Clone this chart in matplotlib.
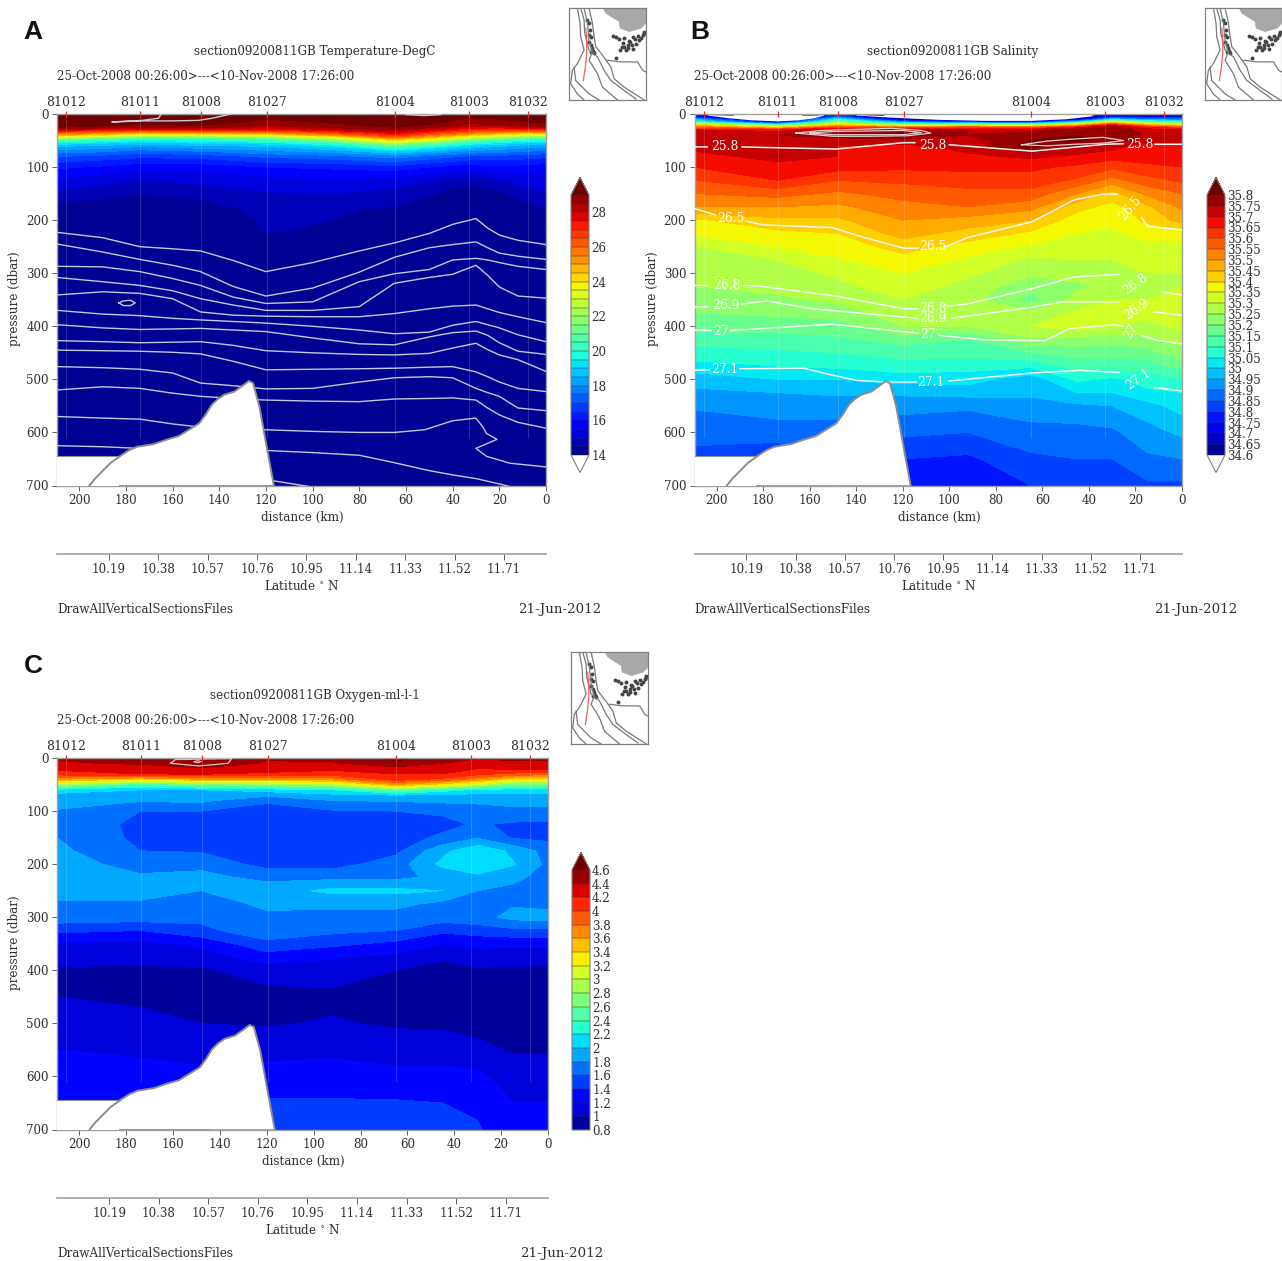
import numpy as np
import matplotlib
matplotlib.use("Agg")
import matplotlib.pyplot as plt
from matplotlib.colors import ListedColormap, BoundaryNorm
from matplotlib.colorbar import ColorbarBase
from matplotlib.patches import Polygon

# ---------- shared data ----------
station_ids = ["81012", "81011", "81008", "81027", "81004", "81003", "81032"]
station_dist = [205.6, 173.8, 147.7, 119.4, 64.7, 33.0, 7.7]
distance_ticks = [200, 180, 160, 140, 120, 100, 80, 60, 40, 20, 0]
pressure_ticks = [0, 100, 200, 300, 400, 500, 600, 700]
latitude_ticks = [10.19, 10.38, 10.57, 10.76, 10.95, 11.14, 11.33, 11.52, 11.71]
terrain_dist = [195.6, 193, 190.3, 186.7, 182.3, 178.8, 175.2, 168.1, 162.8, 157.4, 153, 148.6, 145.9, 143.2, 140.6, 137.9, 133.5, 130, 127.3, 125.5, 122.8, 120.2, 116.6]
terrain_pres = [700, 686, 674, 658, 644, 634, 627, 622, 614, 607, 595, 583, 567, 548, 537, 529, 523, 512, 503, 507, 551, 614, 700]

# ---------- panel A: temperature ----------
temp_dist = [209.5, 190, 174, 148, 119, 92, 65, 45, 33, 20, 8, 0]
temp_pres = [0, 10, 20, 25, 30, 35, 40, 45, 50, 55, 60, 70, 80, 100, 120, 140, 160, 180, 200, 220, 240, 700]
temp_values = [
    [29.2, 29.3, 29.4, 29.4, 29.3, 29.3, 29.5, 29.4, 29.2, 29.2, 29.3, 29.3],
    [29.2, 29.2, 29.3, 29.3, 29.0, 29.2, 29.3, 29.2, 28.9, 29.0, 29.2, 29.2],
    [29.1, 29.1, 29.0, 29.1, 28.6, 28.9, 29.2, 28.9, 28.4, 28.5, 28.8, 28.9],
    [29.0, 28.9, 28.5, 28.7, 28.2, 28.6, 29.0, 28.4, 27.8, 27.7, 28.2, 28.4],
    [27.8, 27.4, 27.2, 27.4, 27.2, 27.9, 28.5, 27.6, 27.0, 26.8, 26.9, 27.0],
    [26.3, 25.6, 25.0, 25.2, 25.5, 26.5, 27.8, 26.6, 25.8, 25.2, 24.8, 24.9],
    [24.6, 24.0, 22.8, 23.0, 23.4, 24.9, 26.9, 25.4, 24.4, 23.6, 22.8, 22.9],
    [22.3, 21.4, 20.6, 20.9, 21.4, 23.0, 25.5, 23.9, 22.6, 21.8, 21.0, 21.0],
    [20.4, 20.0, 19.5, 19.7, 20.1, 21.3, 24.0, 22.3, 21.0, 20.2, 19.7, 19.7],
    [19.3, 19.0, 18.7, 19.0, 19.2, 20.0, 22.3, 20.8, 19.8, 19.3, 18.9, 18.9],
    [18.6, 18.4, 18.1, 18.4, 18.6, 19.2, 20.8, 19.7, 19.0, 18.6, 18.3, 18.3],
    [17.8, 17.6, 17.3, 17.5, 17.9, 18.2, 19.0, 18.3, 17.9, 17.7, 17.5, 17.4],
    [17.0, 16.8, 16.6, 16.7, 17.1, 17.3, 17.7, 17.2, 16.9, 16.8, 16.7, 16.6],
    [16.1, 15.9, 15.7, 15.7, 16.0, 16.1, 16.3, 15.9, 15.7, 15.9, 15.8, 15.7],
    [15.55, 15.25, 15.05, 15.15, 15.45, 15.55, 15.45, 15.05, 14.85, 15.15, 15.35, 15.35],
    [15.1, 14.9, 14.7, 14.9, 15.1, 15.2, 15.0, 14.6, 14.3, 14.6, 15.0, 15.1],
    [14.6, 14.5, 14.3, 14.5, 14.8, 14.8, 14.7, 14.3, 13.9, 14.2, 14.6, 14.8],
    [14.3, 14.2, 14.1, 14.2, 14.7, 14.6, 14.4, 14.1, 13.6, 14.0, 14.3, 14.5],
    [14.1, 14.0, 13.9, 14.0, 14.6, 14.5, 14.2, 13.9, 13.3, 13.8, 14.1, 14.3],
    [13.9, 13.9, 13.8, 13.9, 14.55, 14.4, 14.1, 13.8, 13.1, 13.6, 13.9, 14.1],
    [13.8, 13.7, 13.7, 13.8, 14.3, 14.1, 13.9, 13.6, 12.9, 13.4, 13.7, 13.8],
    [8.0, 8.0, 8.0, 8.0, 8.0, 8.0, 8.0, 8.0, 8.0, 8.0, 8.0, 8.0],
]
temp_levels = [14 + 0.5 * i for i in range(31)]
temp_labels = [14, 16, 18, 20, 22, 24, 26, 28]

isotherm_dist = [209.5, 190, 174, 160, 148, 134, 120, 100, 80, 65, 50, 40, 30, 25, 20, 12, 0]
isotherm_1 = [223, 233, 250, 254, 258, 276, 297, 280, 258, 243, 225, 208, 197, 215, 228, 238, 246]
isotherm_2 = [245, 260, 274, 285, 297, 325, 343, 328, 298, 270, 252, 246, 241, 252, 262, 268, 274]
isotherm_3 = [287, 288, 297, 310, 323, 345, 357, 354, 316, 301, 293, 275, 272, 275, 280, 287, 293]
isotherm_4 = [308, 316, 323, 333, 348, 360, 370, 370, 363, 319, 308, 302, 285, 304, 326, 343, 347]
isotherm_5 = [341, 335, 338, 348, 373, 379, 381, 382, 382, 376, 367, 362, 360, 367, 374, 382, 393]
isotherm_6 = [370, 377, 380, 385, 388, 391, 394, 400, 407, 414, 411, 398, 391, 397, 403, 416, 429]
isotherm_7 = [397, 403, 406, 405, 404, 407, 410, 422, 433, 435, 420, 412, 409, 417, 431, 447, 453]
isotherm_8 = [427, 429, 431, 430, 429, 436, 446, 450, 453, 454, 451, 441, 432, 444, 454, 463, 485]
isotherm_9 = [445, 446, 447, 449, 452, 466, 482, 481, 480, 479, 477, 476, 486, 495, 505, 517, 523]
isotherm_10 = [476, 478, 481, 488, 507, 512, 518, 517, 505, 497, 495, 497, 517, 525, 532, 554, 559]
isotherm_11 = [520, 514, 517, 526, 532, 536, 539, 541, 542, 537, 536, 535, 539, 554, 567, 581, 592]
isotherm_13 = [625, 627, 630, 630, 632, 633, 634, 638, 643, 657, 672, 680, 687, 692, 697, 706, 712]
isotherm_12_dist = [209.5, 190, 174, 160, 148, 134, 120, 100, 80, 65, 52, 40, 30, 27, 25.5, 21, 30, 25.5, 15.5, 0]
isotherm_12 = [570, 573, 575, 584, 590, 593, 595, 598, 600, 600, 595, 578, 573, 590, 602, 613, 630, 645, 658, 665]
isotherm_14_dist = [117, 100]
isotherm_14 = [691, 703]
surface_line_dist = [135, 143, 149, 160, 173, 186, 173, 166, 165]
surface_line_pres = [0, 8, 12, 13, 13, 15, 12, 8, 1]
loop_dist = [183, 181, 178, 176, 178, 181, 183]
loop_pres = [356, 352, 351, 356, 361, 361, 356]
top_right_dist = [60, 52, 45]
top_right_pres = [1, 3, 1]

# ---------- panel B: salinity ----------
sal_dist = [209.5, 174, 148, 120, 92, 65, 45, 30, 15, 0]
sal_pres = [0, 5, 10, 15, 20, 25, 30, 40, 50, 60, 80, 100, 125, 150, 175, 200, 225, 250, 275, 300, 325, 350, 375, 400, 425, 450, 475, 500, 525, 550, 600, 650, 700]
sal_values = [
    [34.62, 34.4, 34.65, 34.5, 34.45, 34.45, 34.5, 34.55, 34.6, 34.65],
    [34.75, 34.5, 34.85, 34.55, 34.5, 34.5, 34.57, 34.75, 34.72, 34.72],
    [34.95, 34.55, 35.05, 34.65, 34.58, 34.57, 34.68, 35.0, 34.9, 34.88],
    [35.1, 34.68, 35.2, 34.9, 34.8, 34.75, 35.0, 35.35, 35.15, 35.1],
    [35.4, 35.05, 35.4, 35.2, 35.2, 35.2, 35.4, 35.65, 35.45, 35.35],
    [35.55, 35.4, 35.6, 35.55, 35.6, 35.55, 35.68, 35.78, 35.65, 35.6],
    [35.7, 35.68, 35.74, 35.78, 35.75, 35.74, 35.76, 35.8, 35.73, 35.72],
    [35.74, 35.75, 35.78, 35.82, 35.75, 35.78, 35.8, 35.8, 35.74, 35.72],
    [35.73, 35.75, 35.72, 35.72, 35.72, 35.8, 35.81, 35.78, 35.72, 35.71],
    [35.71, 35.72, 35.70, 35.69, 35.72, 35.82, 35.74, 35.72, 35.68, 35.69],
    [35.69, 35.71, 35.70, 35.69, 35.69, 35.71, 35.69, 35.67, 35.67, 35.68],
    [35.65, 35.69, 35.67, 35.66, 35.66, 35.66, 35.64, 35.61, 35.64, 35.65],
    [35.60, 35.65, 35.60, 35.61, 35.63, 35.63, 35.59, 35.53, 35.58, 35.61],
    [35.55, 35.57, 35.54, 35.57, 35.58, 35.58, 35.5, 35.43, 35.51, 35.55],
    [35.5, 35.5, 35.49, 35.53, 35.55, 35.52, 35.42, 35.38, 35.44, 35.51],
    [35.39, 35.44, 35.44, 35.5, 35.48, 35.45, 35.37, 35.36, 35.41, 35.47],
    [35.355, 35.385, 35.40, 35.47, 35.43, 35.39, 35.35, 35.34, 35.37, 35.37],
    [35.295, 35.35, 35.37, 35.42, 35.38, 35.34, 35.33, 35.32, 35.33, 35.34],
    [35.285, 35.30, 35.345, 35.38, 35.34, 35.29, 35.3, 35.3, 35.31, 35.31],
    [35.27, 35.28, 35.31, 35.35, 35.31, 35.26, 35.27, 35.27, 35.3, 35.3],
    [35.25, 35.265, 35.285, 35.33, 35.28, 35.22, 35.24, 35.26, 35.29, 35.3],
    [35.22, 35.24, 35.26, 35.30, 35.27, 35.18, 35.27, 35.3, 35.3, 35.31],
    [35.2, 35.21, 35.22, 35.28, 35.29, 35.26, 35.31, 35.32, 35.31, 35.33],
    [35.17, 35.17, 35.18, 35.25, 35.25, 35.3, 35.33, 35.3, 35.29, 35.31],
    [35.12, 35.13, 35.14, 35.17, 35.15, 35.24, 35.23, 35.22, 35.23, 35.27],
    [35.08, 35.09, 35.10, 35.12, 35.12, 35.15, 35.17, 35.17, 35.18, 35.23],
    [35.03, 35.05, 35.06, 35.08, 35.07, 35.06, 35.12, 35.12, 35.12, 35.17],
    [34.97, 35.0, 35.0, 35.02, 35.02, 34.97, 35.06, 35.04, 35.07, 35.1],
    [34.94, 34.95, 34.96, 34.96, 34.97, 34.96, 35.0, 35.0, 35.04, 35.05],
    [34.905, 34.92, 34.92, 34.92, 34.91, 34.93, 34.94, 34.95, 34.98, 35.02],
    [34.87, 34.88, 34.88, 34.86, 34.85, 34.88, 34.88, 34.89, 34.93, 34.96],
    [34.83, 34.8, 34.85, 34.80, 34.79, 34.84, 34.85, 34.85, 34.89, 34.9],
    [34.8, 34.78, 34.8, 34.76, 34.78, 34.8, 34.81, 34.81, 34.84, 34.84],
]
sal_levels = [round(34.6 + 0.05 * i, 2) for i in range(25)]
sal_labels = ["34.6", "34.65", "34.7", "34.75", "34.8", "34.85", "34.9", "34.95", "35", "35.05", "35.1", "35.15", "35.2",
              "35.25", "35.3", "35.35", "35.4", "35.45", "35.5", "35.55", "35.6", "35.65", "35.7", "35.75", "35.8"]
fresh_lens_1_dist = [204, 195, 185, 174, 165, 158, 154]
fresh_lens_1_top = [1, 2, 2, 2, 2, 2, 1]
fresh_lens_1_bottom = [2, 7, 11, 13, 11, 7, 2]
fresh_lens_2_dist = [140, 125, 105, 85, 65, 50, 38]
fresh_lens_2_top = [1, 3, 4, 4, 4, 4, 2]
fresh_lens_2_bottom = [2, 6, 10, 12, 12, 9, 3]

nan = float("nan")
sigma_258_dist = [209.6, 204, 196, 189, 180, 148.6, 119.5, 114.8, 107, 100, 64.4, 32.9, 25.3, 18, 11.6, 0]
sigma_258_pres = [62, 62, nan, 62, 63, 66, 54, 54, nan, 58, 70, 57, 56, nan, 57, 57]
sigma_265_dist = [209.6, 200.5, 194, 187.3, 180, 150.3, 138, 119.5, 113.4, 107, 101, 92.2, 64.4, 46.4, 34.1, 27.9, 22, 17.4, 14.7, 0]
sigma_265_pres = [178, 190, nan, 202, 209, 214, 231, 253, 253, nan, 249, 233, 203, 162, 151, 151, nan, 195, 212, 218]
sigma_268_dist = [209.6, 204, 196, 188, 180, 148.6, 119.5, 113.4, 107, 101, 92.2, 64.4, 46.4, 27, 20, 8.6, 0]
sigma_268_pres = [323, 323, nan, 323, 325, 343, 367, 367, nan, 362, 358, 329, 307, 302, nan, 335, 341]
sigma_269_dist = [209.6, 204, 196, 189, 178.5, 159, 113.4, 107, 99, 64.4, 51.7, 27, 20, 12, 0]
sigma_269_pres = [364, 363, nan, 358, 352, 367, 385, nan, 385, 364, 354, 354, nan, 373, 379]
sigma_270_dist = [209.6, 202.3, 198, 194, 150.3, 113.4, 109, 104.5, 83.4, 58.8, 48.2, 28.8, 25.3, 21, 17.4, 11.2, 0]
sigma_270_pres = [407, 408, nan, 408, 396, 413, nan, 417, 426, 427, 404, 397, 400, nan, 417, 426, 433]
sigma_271_dist = [209.6, 203, 196, 190, 162.6, 150.3, 139.8, 127.4, 114.2, 108, 100, 64.4, 43.8, 27, 19, 12, 0]
sigma_271_pres = [483, 482, nan, 480, 479, 492, 502, 505, 505, nan, 503, 488, 483, 487, nan, 515, 522]
sigma_label_text = ["25.8", "25.8", "25.8", "26.5", "26.5", "26.5", "26.8", "26.8", "26.8", "26.9", "26.9", "26.9", "27", "27", "27", "27.1", "27.1", "27.1"]
sigma_label_dist = [196.5, 107, 18.2, 194, 107, 22.3, 195.6, 107, 20, 196, 107, 19.5, 198, 109.3, 21.8, 196.5, 108, 19]
sigma_label_pres = [61, 60, 57, 197, 250, 178, 323, 367, 320, 361, 385, 368, 409, 416, 410, 482, 505, 500]
sigma_label_rot = [0, 0, 0, 0, 0, 50, 0, 0, 35, 0, 0, 35, 0, 0, 60, 0, 0, 35]
lens1_dist = [166, 155, 140, 125, 112, 108, 118, 135, 150, 166]
lens1_pres = [36, 31, 29, 27, 31, 36, 41, 42, 42, 36]
lens1b_dist = [160, 150, 135, 120, 112, 120, 135, 150, 160]
lens1b_pres = [36, 33, 32, 31, 35, 39, 39, 39, 36]
lens2_dist = [69, 58, 46, 34, 25, 34, 46, 58, 69]
lens2_pres = [58, 51, 47, 44, 50, 55, 57, 60, 58]

# ---------- panel C: oxygen ----------
oxy_dist = [209.5, 174, 148, 120, 92, 65, 45, 30, 15, 0]
oxy_pres = [0, 10, 20, 30, 40, 50, 60, 70, 80, 100, 125, 150, 175, 200, 225, 250, 275, 300, 325, 350, 375, 400, 450, 500, 550, 600, 650, 700]
oxy_values = [
    [4.42, 4.45, 4.6, 4.42, 4.45, 4.65, 4.55, 4.42, 4.42, 4.42],
    [4.38, 4.42, 4.52, 4.38, 4.38, 4.55, 4.4, 4.3, 4.38, 4.38],
    [4.25, 4.32, 4.38, 4.32, 4.25, 4.32, 4.28, 4.2, 4.25, 4.3],
    [4.1, 4.2, 4.22, 4.15, 4.1, 4.2, 4.2, 4.05, 3.95, 3.9],
    [3.6, 3.4, 3.6, 3.6, 3.7, 4.1, 3.95, 3.7, 3.35, 3.3],
    [2.9, 2.4, 2.6, 2.75, 2.9, 3.6, 3.3, 3.0, 2.6, 2.65],
    [2.1, 2.0, 2.0, 2.08, 2.2, 2.6, 2.3, 2.15, 2.1, 2.1],
    [1.95, 1.92, 1.88, 1.85, 1.95, 2.0, 1.95, 1.95, 1.95, 1.95],
    [1.9, 1.82, 1.85, 1.62, 1.8, 1.82, 1.85, 1.85, 1.87, 1.88],
    [1.78, 1.6, 1.6, 1.55, 1.58, 1.6, 1.63, 1.7, 1.75, 1.75],
    [1.75, 1.55, 1.53, 1.5, 1.52, 1.55, 1.55, 1.62, 1.57, 1.55],
    [1.8, 1.55, 1.55, 1.5, 1.5, 1.53, 1.63, 1.78, 1.58, 1.55],
    [1.85, 1.6, 1.58, 1.5, 1.5, 1.55, 1.95, 2.15, 1.95, 1.72],
    [1.86, 1.75, 1.75, 1.52, 1.52, 1.7, 2.05, 2.15, 2.02, 1.75],
    [1.85, 1.82, 1.85, 1.75, 1.75, 1.75, 1.85, 1.95, 1.85, 1.72],
    [1.85, 1.85, 1.8, 1.9, 2.05, 2.05, 2.0, 1.8, 1.75, 1.7],
    [1.78, 1.78, 1.75, 1.82, 1.85, 1.85, 1.75, 1.72, 1.78, 1.72],
    [1.72, 1.7, 1.65, 1.78, 1.72, 1.72, 1.7, 1.72, 1.86, 1.9],
    [1.45, 1.4, 1.55, 1.72, 1.65, 1.6, 1.45, 1.5, 1.55, 1.55],
    [1.18, 1.15, 1.25, 1.55, 1.45, 1.35, 1.2, 1.25, 1.25, 1.25],
    [1.05, 1.05, 1.1, 1.3, 1.22, 1.15, 1.02, 1.1, 1.08, 1.05],
    [0.98, 0.97, 0.97, 1.1, 1.1, 1.0, 0.95, 0.97, 0.97, 0.97],
    [1.0, 0.98, 0.95, 0.92, 0.95, 0.93, 0.92, 0.9, 0.88, 0.88],
    [1.09, 1.03, 1.0, 0.98, 1.02, 0.97, 0.96, 0.93, 0.9, 0.88],
    [1.2, 1.17, 1.12, 1.12, 1.15, 1.12, 1.12, 1.05, 0.98, 0.98],
    [1.3, 1.27, 1.25, 1.3, 1.3, 1.25, 1.26, 1.24, 1.12, 1.1],
    [1.35, 1.35, 1.35, 1.42, 1.42, 1.42, 1.4, 1.36, 1.2, 1.2],
    [1.4, 1.38, 1.38, 1.5, 1.5, 1.5, 1.45, 1.42, 1.25, 1.22],
]
oxy_levels = [round(0.8 + 0.2 * i, 1) for i in range(20)]
oxy_labels = ["0.8", "1", "1.2", "1.4", "1.6", "1.8", "2", "2.2", "2.4", "2.6", "2.8", "3", "3.2", "3.4", "3.6", "3.8", "4", "4.2", "4.4", "4.6"]
oxy_line_dist = [161, 159, 135, 136.5, 149, 161]
oxy_line_pres = [10, 3, 1, 10, 15, 10]
oxy_loop_dist = [151, 149.5, 148, 149.5, 151]
oxy_loop_pres = [7, 5, 7, 9, 7]

# ---------- locator map ----------
land_x = [127, 135, 150, 175, 178, 205, 240, 255, 255]
land_y = [25, 40, 50, 65, 85, 95, 85, 70, 25]
map_line_1 = ([60, 70, 72, 85, 110, 130, 150, 190, 225], [25, 60, 100, 150, 170, 210, 240, 270, 295])
map_line_2 = ([50, 58, 60, 70, 50, 35, 30, 50, 70], [25, 70, 110, 150, 190, 210, 250, 280, 298])
map_line_3 = ([85, 95, 100, 105, 125, 150, 160, 190, 250], [25, 70, 110, 140, 165, 200, 235, 260, 298])
map_line_4 = ([70, 80, 85, 95, 85, 110, 125, 170], [25, 70, 120, 155, 180, 220, 260, 298])
map_line_5 = ([40, 45, 85, 115], [200, 240, 280, 298])
map_line_6 = ([140, 180, 230, 245, 255], [180, 185, 185, 210, 215])
island_x = [155, 165, 175, 185, 190, 200, 205, 215, 225, 235, 245, 250, 190, 200, 215, 165, 85, 88, 92, 85, 90, 95, 100, 80, 84, 92, 96, 182, 195, 208, 222, 232, 240, 178, 212, 248]
island_y = [108, 112, 118, 128, 115, 135, 122, 110, 132, 120, 105, 100, 140, 145, 148, 172, 70, 90, 110, 125, 135, 145, 158, 60, 105, 155, 152, 140, 150, 125, 118, 108, 115, 150, 135, 95]
track_x = [75, 78, 78, 74, 68]
track_y = [85, 120, 160, 200, 240]

# ---------- helpers ----------
W, H = 1282, 1261
fig = plt.figure(figsize=(W / 100, H / 100), dpi=100, facecolor="white")
SERIF = "DejaVu Serif"
TXT = "#303030"
FS = 8.6


def fx(x):
    return x / W


def fy(y):
    return 1 - y / H


def add_px_axes(x0, y0, x1, y1):
    return fig.add_axes([fx(x0), fy(y1), (x1 - x0) / W, (y1 - y0) / H])


def ptext(x, y, s, ha="center", size=FS, **kw):
    fig.text(fx(x), fy(y), s, ha=ha, va="center", family=SERIF, size=size, color=TXT, **kw)


def jet_listed(n):
    cols = plt.get_cmap("jet")((np.arange(n) + 0.5) / n)
    cmap = ListedColormap(cols)
    cmap.set_over("#6e0000")
    cmap.set_under("white")
    return cmap


def draw_map(x, y):
    ax = add_px_axes(x, y, x + 77, y + 92)
    ax.set_xlim(25, 255)
    ax.set_ylim(298, 25)
    ax.set_xticks([])
    ax.set_yticks([])
    ax.fill(land_x, land_y, color="#a8a8a8", lw=0.5)
    for lx, ly in (map_line_1, map_line_2, map_line_3, map_line_4, map_line_5, map_line_6):
        ax.plot(lx, ly, color="#787878", lw=0.9)
    ax.scatter(island_x, island_y, s=8, color="#454545", lw=0)
    ax.plot(track_x, track_y, color="#f06060", lw=0.9)
    for s in ax.spines.values():
        s.set_color("#808080")
        s.set_linewidth(0.9)


def draw_panel(letter, letter_xy, x0, x1, y0, y1, title, grid_x, grid_p, grid_v,
               levels, tick_labels, tick_vals, cbar_x, cbar_top, cbar_bot, extend):
    ax = add_px_axes(x0, y0, x1, y1)
    cmap = jet_listed(len(levels) - 1)
    norm = BoundaryNorm(levels, len(levels) - 1)
    ax.contourf(grid_x, grid_p, grid_v, levels=levels, cmap=cmap, norm=norm, extend="both", zorder=1)
    ax.set_xlim(209.5, 0)
    ax.set_ylim(700, 0)
    ax.vlines(station_dist, 0, 610, color="white", alpha=0.16, lw=0.8, zorder=3)
    ax.set_xticks(distance_ticks)
    ax.set_yticks(pressure_ticks)
    ax.tick_params(length=3.5, width=0.7, color="#606060", labelsize=FS, labelcolor=TXT, pad=2.5)
    for t in ax.get_xticklabels() + ax.get_yticklabels():
        t.set_family(SERIF)
    for s in ax.spines.values():
        s.set_color("#a0a0a0")
        s.set_linewidth(1.0)
    # seabed
    ax.add_patch(Polygon(list(zip(terrain_dist, terrain_pres)), closed=True, fc="white", ec="none", zorder=6))
    ax.add_patch(Polygon([(209.5, 645), (183, 645), (183, 700), (209.5, 700)], closed=True, fc="white", ec="none", zorder=6))
    ax.plot(terrain_dist, terrain_pres, color="#8c8c8c", lw=1.4, zorder=7)
    ax.plot([209.5, 183], [645, 645], color="#909090", lw=0.8, zorder=7)
    # stations
    ax.plot(station_dist, [0] * len(station_dist), ls="", marker="|", ms=5, mew=0.9, color="#e03030", zorder=8, clip_on=False)
    for name, d in zip(station_ids, station_dist):
        xp = x1 - d * (x1 - x0) / 209.5
        ptext(xp, y0 - 12, name, size=8.9)
    # texts
    fig.text(fx(letter_xy[0]), fy(letter_xy[1]), letter, family="Liberation Sans", weight="bold", size=19,
             ha="center", va="center", color="#111111")
    ptext(x0 + 258, y0 - 63, title)
    ptext(x0, y0 - 37, "25-Oct-2008 00:26:00>---<10-Nov-2008 17:26:00", ha="left")
    ptext(x0 - 42, (y0 + y1) / 2 - 1, "pressure (dbar)", rotation=90)
    ptext((x0 + x1) / 2 + 1, y1 + 32, "distance (km)")
    ptext(x0, y1 + 124, "DrawAllVerticalSectionsFiles", ha="left")
    ptext(x1 + 55, y1 + 124, "21-Jun-2012", ha="right", size=9.6)
    ptext((x0 + x1) / 2 + 0.5, y1 + 100, "Latitude $^{\\circ}$ N")
    # latitude axis
    lax = add_px_axes(x0, y1 + 67, x1, y1 + 68)
    lax.set_xlim(9.99, 11.872)
    lax.set_yticks([])
    lax.set_xticks(latitude_ticks)
    lax.set_xticklabels(["%.2f" % v for v in latitude_ticks], family=SERIF, size=FS, color=TXT)
    lax.tick_params(length=4, width=0.7, color="#606060", pad=3)
    for k, s in lax.spines.items():
        s.set_visible(k == "bottom")
        s.set_color("#a0a0a0")
        s.set_linewidth(1.2)
    lax.patch.set_alpha(0)
    # colour bar: the axes holds the body plus its triangular ends
    tip = 17.5
    body = cbar_bot - cbar_top
    top_px = cbar_top - tip
    bot_px = cbar_bot + (tip if extend == "both" else 0)
    cax = add_px_axes(cbar_x, top_px, cbar_x + 18, bot_px)
    cb = ColorbarBase(cax, cmap=cmap, norm=norm, extend=extend, extendfrac=tip / body,
                      spacing="proportional", ticks=tick_vals, drawedges=True)
    cb.ax.minorticks_off()
    cb.dividers.set_color("#303030")
    cb.dividers.set_linewidth(0.35)
    cb.outline.set_edgecolor("#808080")
    cb.outline.set_linewidth(0.8)
    cb.ax.set_yticklabels(tick_labels, family=SERIF, size=FS, color=TXT)
    cb.ax.tick_params(length=0, pad=1.5)
    return ax


# ---------- panel A ----------
axA = draw_panel("A", (33, 32), 57, 546, 114, 485.5, "section09200811GB Temperature-DegC",
                 temp_dist, temp_pres, np.maximum(np.array(temp_values), 14.01), temp_levels,
                 [str(v) for v in temp_labels], temp_labels, 571, 195, 455, "both")
LINE_A = dict(color="#c4c8d8", lw=1.0, zorder=4)
for iso in (isotherm_1, isotherm_2, isotherm_3, isotherm_4, isotherm_5, isotherm_6, isotherm_7,
            isotherm_8, isotherm_9, isotherm_10, isotherm_11, isotherm_13):
    axA.plot(isotherm_dist, iso, **LINE_A)
axA.plot(isotherm_12_dist, isotherm_12, **LINE_A)
axA.plot(isotherm_14_dist, isotherm_14, **LINE_A)
axA.plot(surface_line_dist, surface_line_pres, **LINE_A)
axA.plot(loop_dist, loop_pres, **LINE_A)
axA.plot(top_right_dist, top_right_pres, **LINE_A)
draw_map(569, 8)

# ---------- panel B ----------
axB = draw_panel("B", (700, 32), 694.5, 1182, 114, 485.5, "section09200811GB Salinity",
                 sal_dist, sal_pres, np.array(sal_values), sal_levels,
                 sal_labels, sal_levels, 1207, 195, 455, "both")
axB.fill_between(fresh_lens_1_dist, fresh_lens_1_top, fresh_lens_1_bottom, color="white", lw=0, zorder=2)
axB.fill_between(fresh_lens_2_dist, fresh_lens_2_top, fresh_lens_2_bottom, color="white", lw=0, zorder=2)
LINE_B = dict(color="#f4f8f4", lw=1.1, zorder=4)
for dd, pp in ((sigma_258_dist, sigma_258_pres), (sigma_265_dist, sigma_265_pres), (sigma_268_dist, sigma_268_pres),
               (sigma_269_dist, sigma_269_pres), (sigma_270_dist, sigma_270_pres), (sigma_271_dist, sigma_271_pres)):
    axB.plot(dd, pp, **LINE_B)
for dd, pp in ((lens1_dist, lens1_pres), (lens1b_dist, lens1b_pres), (lens2_dist, lens2_pres)):
    axB.plot(dd, pp, color="#e0d0d0", lw=0.9, zorder=4)
for s, dd, pp, r in zip(sigma_label_text, sigma_label_dist, sigma_label_pres, sigma_label_rot):
    axB.text(dd, pp, s, color="white", family=SERIF, size=8.8, rotation=r, ha="center", va="center", zorder=5)
draw_map(1205, 8)

# ---------- panel C ----------
axC = draw_panel("C", (33, 666), 57, 548, 758, 1129.5, "section09200811GB Oxygen-ml-l-1",
                 oxy_dist, oxy_pres, np.array(oxy_values), oxy_levels,
                 oxy_labels, oxy_levels, 572, 870, 1130, "max")
axC.plot(oxy_line_dist, oxy_line_pres, color="#d8c8c8", lw=0.9, zorder=4)
axC.plot(oxy_loop_dist, oxy_loop_pres, color="#d8c8c8", lw=0.8, zorder=4)
draw_map(571, 652)

fig.savefig("out.png", dpi=100, facecolor="white")
